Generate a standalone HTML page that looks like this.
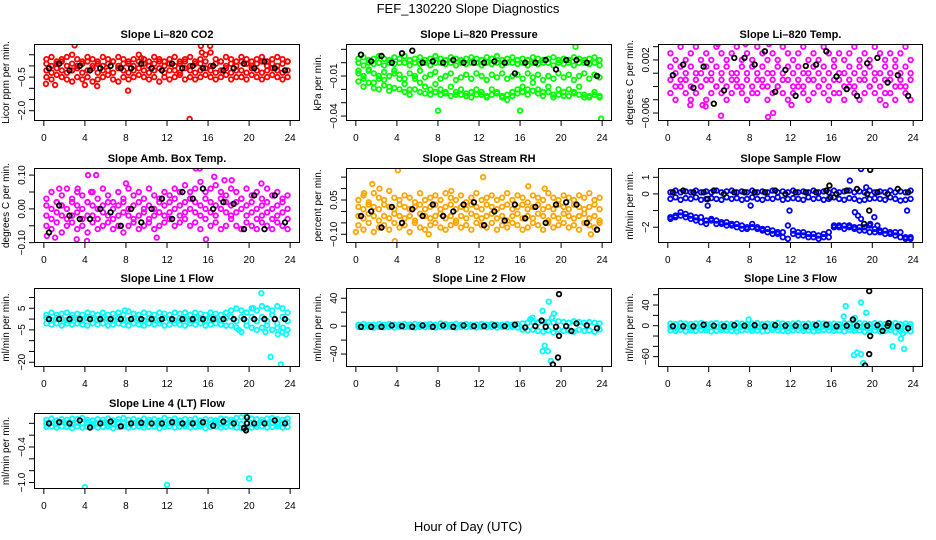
<!DOCTYPE html>
<html><head><meta charset="utf-8"><title>FEF_130220 Slope Diagnostics</title>
<style>
html,body{margin:0;padding:0;background:#fff;}
svg{display:block;font-family:"Liberation Sans",Arial,sans-serif;}
</style></head>
<body>
<svg id="chart" width="936" height="540" viewBox="0 0 936 540" xmlns="http://www.w3.org/2000/svg">
<rect width="936" height="540" fill="#fff"/>
<text x="468" y="13" text-anchor="middle" font-size="13">FEF_130220  Slope Diagnostics</text>
<text x="468" y="531" text-anchor="middle" font-size="13">Hour of Day (UTC)</text>
</svg>
<script>
const hrs48=[0.25,0.75,1.25,1.75,2.25,2.75,3.25,3.75,4.25,4.75,5.25,5.75,6.25,6.75,7.25,7.75,8.25,8.75,9.25,9.75,10.25,10.75,11.25,11.75,12.25,12.75,13.25,13.75,14.25,14.75,15.25,15.75,16.25,16.75,17.25,17.75,18.25,18.75,19.25,19.75,20.25,20.75,21.25,21.75,22.25,22.75,23.25,23.75];
const hrs24=[0.5,1.5,2.5,3.5,4.5,5.5,6.5,7.5,8.5,9.5,10.5,11.5,12.5,13.5,14.5,15.5,16.5,17.5,18.5,19.5,20.5,21.5,22.5,23.5];
const xTicks=[0,4,8,12,16,20,24];

// P1 CO2
const co2Hi=[0.3,0.4,0.2,0.3,0.4,0.5,0.3,0.2,0.4,0.3,0.2,0.4,0.3,0.2,0.4,0.3,0.2,0.3,0.5,0.3,0.2,0.4,0.3,0.2,0.3,0.4,0.2,0.3,0.4,0.2,0.3,0.5,0.6,0.3,0.2,0.4,0.3,0.2,0.4,0.3,0.2,0.3,0.4,0.2,0.3,0.4,0.3,0.2];
const co2MidA=[0.1,0.0,0.1,0.2,0.0,0.1,0.0,0.1,0.2,0.0,0.1,0.0,0.1,0.2,0.0,0.1,0.1,0.0,0.2,0.1,0.0,0.1,0.2,0.0,0.1,0.0,0.1,0.2,0.0,0.1,0.1,0.2,0.0,0.1,0.2,0.0,0.1,0.0,0.2,0.1,0.0,0.1,0.2,0.0,0.1,0.0,0.1,0.2];
const co2MidB=[-0.2,-0.3,-0.1,-0.2,-0.3,-0.2,-0.1,-0.3,-0.2,-0.1,-0.3,-0.2,-0.2,-0.3,-0.1,-0.2,-0.3,-0.2,-0.1,-0.2,-0.3,-0.2,-0.1,-0.3,-0.2,-0.2,-0.3,-0.1,-0.2,-0.3,-0.2,-0.1,-0.2,-0.3,-0.2,-0.1,-0.3,-0.2,-0.2,-0.3,-0.1,-0.2,-0.3,-0.2,-0.1,-0.2,-0.3,-0.2];
const co2Lo=[-0.5,-0.6,-0.4,-0.5,-0.6,-0.7,-0.5,-0.6,-0.5,-0.7,-0.6,-0.5,-0.4,-0.6,-0.7,-0.5,-0.6,-0.5,-0.4,-0.5,-0.6,-0.5,-0.7,-0.5,-0.6,-0.5,-0.4,-0.6,-0.5,-0.6,-0.5,-0.4,-0.5,-0.6,-0.5,-0.4,-0.6,-0.5,-0.5,-0.6,-0.4,-0.5,-0.6,-0.5,-0.4,-0.5,-0.6,-0.5];
const co2OutX=[0.2,1.1,3.0,4.0,5.2,8.2,9.5,14.2,15.3,15.4,16.2];
const co2OutY=[-0.8,-0.85,0.92,-0.85,-0.9,-1.1,0.35,-2.37,0.9,0.6,0.9];
const co2Blk=[-0.1,0.1,-0.2,0.0,-0.2,-0.1,0.0,-0.1,-0.1,0.1,-0.1,-0.2,0.1,-0.1,0.0,-0.1,0.0,-0.2,-0.1,0.1,-0.1,0.2,-0.1,-0.2];

// P2 Pressure
const prsHi=[0.003,0.004,0.002,0.003,0.005,0.003,0.002,0.004,0.003,0.005,0.002,0.003,0.004,0.002,0.003,0.005,0.003,0.002,0.004,0.003,0.002,0.003,0.004,0.003,0.002,0.004,0.003,0.005,0.002,0.003,0.004,0.002,0.003,0.002,0.004,0.003,0.002,0.003,0.004,0.002,0.003,0.002,0.004,0.003,0.002,0.003,0.004,0.002];
const prsMid=[0.0,-0.002,0.0,-0.001,0.0,-0.002,0.0,-0.001,0.0,0.0,-0.002,0.0,-0.001,0.0,-0.002,0.0,0.0,-0.001,0.0,-0.002,0.0,-0.001,0.0,0.0,-0.002,0.0,-0.001,0.0,-0.002,0.0,0.0,-0.001,0.0,-0.002,0.0,-0.001,0.0,0.0,-0.002,0.0,-0.001,0.0,-0.002,0.0,0.0,-0.001,0.0,-0.002];
const prsMidB=[-0.006,-0.01,-0.005,-0.008,-0.012,-0.007,-0.01,-0.006,-0.009,-0.012,-0.008,-0.01,-0.006,-0.011,-0.009,-0.007,-0.012,-0.01,-0.008,-0.013,-0.011,-0.009,-0.012,-0.008,-0.01,-0.013,-0.009,-0.011,-0.008,-0.012,-0.01,-0.009,-0.012,-0.008,-0.011,-0.009,-0.013,-0.01,-0.012,-0.008,-0.011,-0.009,-0.013,-0.01,-0.008,-0.012,-0.009,-0.011];
const prsLo=[-0.008,-0.012,-0.006,-0.015,-0.01,-0.013,-0.018,-0.008,-0.012,-0.016,-0.02,-0.012,-0.015,-0.018,-0.02,-0.016,-0.02,-0.022,-0.018,-0.024,-0.02,-0.025,-0.022,-0.02,-0.024,-0.026,-0.02,-0.022,-0.025,-0.028,-0.022,-0.02,-0.018,-0.02,-0.015,-0.02,-0.022,-0.018,-0.024,-0.02,-0.025,-0.02,-0.022,-0.018,-0.024,-0.026,-0.022,-0.025];
const prsLoB=[-0.014,-0.018,-0.015,-0.019,-0.02,-0.017,-0.021,-0.019,-0.02,-0.022,-0.024,-0.02,-0.022,-0.023,-0.024,-0.022,-0.024,-0.023,-0.025,-0.022,-0.024,-0.023,-0.026,-0.024,-0.022,-0.025,-0.024,-0.023,-0.026,-0.024,-0.025,-0.023,-0.022,-0.024,-0.021,-0.023,-0.025,-0.022,-0.026,-0.024,-0.022,-0.025,-0.023,-0.024,-0.026,-0.025,-0.024,-0.026];
const prsOutX=[8,16,21.4,23.9];
const prsOutY=[-0.036,-0.036,0.012,-0.042];
const prsBlk=[0.006,0.001,0.005,0.0,0.007,0.009,0.0,0.001,0.0,0.002,0.0,0.0,0.0,0.001,0.0,-0.008,0.0,0.0,0.002,-0.005,0.002,0.002,0.0,-0.01];

// P3 Li-820 Temp
const tmpHi=[0.003,0.002,0.004,0.002,0.003,0.004,0.002,0.003,0.002,0.004,0.003,0.002,0.003,0.004,0.002,0.003,0.002,0.004,0.003,0.002,0.003,0.002,0.004,0.003,0.002,0.003,0.004,0.002,0.003,0.002,0.004,0.003,0.002,0.003,0.002,0.003,0.004,0.002,0.003,0.002,0.004,0.003,0.002,0.003,0.002,0.003,0.004,0.002];
const tmpMid=[0.001,0.0,0.001,0.0,0.001,0.0,0.0,0.001,0.0,0.001,0.0,0.001,0.0,0.0,0.001,0.0,0.001,0.0,0.001,0.0,0.0,0.001,0.0,0.001,0.0,0.001,0.0,0.0,0.001,0.0,0.001,0.0,0.001,0.0,0.0,0.001,0.0,0.001,0.0,0.001,0.0,0.0,0.001,0.0,0.001,0.0,0.001,0.0];
const tmpMidB=[-0.001,-0.002,-0.001,-0.001,-0.002,-0.001,-0.002,-0.001,-0.001,-0.002,-0.001,-0.002,-0.001,-0.001,-0.002,-0.001,-0.002,-0.001,-0.001,-0.002,-0.001,-0.002,-0.001,-0.001,-0.002,-0.001,-0.002,-0.001,-0.001,-0.002,-0.001,-0.002,-0.001,-0.001,-0.002,-0.001,-0.002,-0.001,-0.001,-0.002,-0.001,-0.002,-0.001,-0.001,-0.002,-0.001,-0.002,-0.001];
const tmpLo=[-0.003,-0.004,-0.002,-0.003,-0.004,-0.003,-0.002,-0.004,-0.003,-0.002,-0.003,-0.004,-0.003,-0.002,-0.003,-0.004,-0.003,-0.003,-0.002,-0.004,-0.003,-0.002,-0.003,-0.004,-0.003,-0.002,-0.003,-0.004,-0.003,-0.002,-0.003,-0.004,-0.003,-0.003,-0.004,-0.002,-0.003,-0.004,-0.003,-0.002,-0.003,-0.004,-0.003,-0.003,-0.004,-0.002,-0.003,-0.004];
const tmpOutX=[5.2,9.8,10.3,3.4,3.7,2.2,21.3,12.1,4.9,7.6,9.9];
const tmpOutY=[-0.0064,-0.0066,-0.006,-0.0048,-0.005,-0.0048,-0.0048,-0.0048,0.0044,0.0044,0.0044];
const tmpBlk=[-0.0003,0.0013,-0.0022,0.001,-0.0046,-0.0026,0.0023,0.0023,0.0013,0.0033,-0.0028,0.0005,-0.0034,0.0011,0.0013,0.0033,-0.0005,-0.0024,-0.0034,0.0015,0.0023,-0.0014,-0.0003,-0.0034];

// P4 Amb Box Temp
const ambHi=[0.03,0.05,0.02,0.04,0.06,0.03,0.05,0.04,0.02,0.05,0.03,0.06,0.04,0.02,0.05,0.03,0.06,0.04,0.05,0.03,0.06,0.04,0.03,0.05,0.04,0.06,0.05,0.07,0.05,0.06,0.08,0.05,0.06,0.07,0.05,0.04,0.06,0.05,0.03,0.06,0.04,0.05,0.03,0.06,0.04,0.05,0.03,0.04];
const ambMid=[0.01,0.0,0.02,0.01,0.0,0.02,0.01,0.0,0.02,0.01,0.0,0.01,0.02,0.0,0.01,0.02,0.0,0.01,0.02,0.0,0.01,0.0,0.02,0.01,0.02,0.03,0.01,0.02,0.03,0.02,0.01,0.03,0.02,0.01,0.03,0.02,0.01,0.02,0.03,0.01,0.02,0.0,0.01,0.02,0.0,0.01,0.02,0.0];
const ambMidB=[-0.02,-0.03,-0.01,-0.02,-0.03,-0.02,-0.01,-0.03,-0.02,-0.02,-0.03,-0.01,-0.02,-0.03,-0.02,-0.01,-0.02,-0.03,-0.02,-0.01,-0.03,-0.02,-0.01,-0.02,-0.01,0.0,-0.02,-0.01,0.0,-0.01,-0.02,0.0,-0.01,-0.02,0.0,-0.01,-0.02,-0.01,0.0,-0.02,-0.01,-0.03,-0.02,-0.01,-0.03,-0.02,-0.01,-0.03];
const ambLo=[-0.05,-0.06,-0.04,-0.07,-0.05,-0.04,-0.06,-0.05,-0.07,-0.04,-0.06,-0.05,-0.04,-0.06,-0.05,-0.07,-0.05,-0.04,-0.06,-0.05,-0.04,-0.06,-0.05,-0.04,-0.03,-0.05,-0.04,-0.03,-0.05,-0.04,-0.06,-0.03,-0.05,-0.04,-0.06,-0.05,-0.03,-0.05,-0.06,-0.04,-0.05,-0.06,-0.04,-0.05,-0.06,-0.04,-0.05,-0.06];
const ambOutX=[0.3,1.1,3.2,4.2,4.3,5.1,14.8,15.2,15.8,16.6,11,1.5,3.3,8,4.6,17.6,18.3,21.2];
const ambOutY=[-0.08,-0.085,-0.09,-0.095,0.1,0.1,0.12,0.12,-0.09,0.095,-0.085,0.06,0.06,0.075,0.05,0.085,0.085,0.075];
const ambBlk=[-0.07,0.01,-0.02,-0.03,-0.03,0.0,-0.01,-0.05,0.0,-0.04,0.0,0.03,-0.03,0.05,0.03,0.06,0.0,0.02,0.015,-0.06,0.04,-0.06,0.04,-0.04];

// P5 Gas Stream RH
const rhHi=[0.05,0.07,0.04,0.08,0.06,0.05,0.09,0.06,0.05,0.07,0.06,0.04,0.08,0.05,0.06,0.07,0.05,0.08,0.06,0.05,0.07,0.04,0.06,0.08,0.05,0.06,0.07,0.05,0.06,0.08,0.05,0.07,0.06,0.04,0.07,0.06,0.05,0.08,0.06,0.05,0.07,0.06,0.05,0.07,0.06,0.08,0.05,0.06];
const rhMid=[0.02,0.01,0.03,0.02,0.01,0.03,0.02,0.01,0.03,0.02,0.01,0.02,0.03,0.01,0.02,0.03,0.01,0.02,0.03,0.01,0.02,0.01,0.03,0.02,0.01,0.03,0.02,0.01,0.02,0.03,0.01,0.02,0.03,0.01,0.02,0.03,0.01,0.02,0.01,0.03,0.02,0.01,0.03,0.02,0.01,0.02,0.03,0.01];
const rhMidB=[-0.02,-0.03,-0.01,-0.02,-0.04,-0.02,-0.03,-0.01,-0.02,-0.03,-0.02,-0.04,-0.01,-0.02,-0.03,-0.02,-0.01,-0.03,-0.02,-0.04,-0.02,-0.03,-0.01,-0.02,-0.03,-0.02,-0.01,-0.03,-0.02,-0.04,-0.02,-0.01,-0.03,-0.02,-0.03,-0.01,-0.02,-0.04,-0.02,-0.03,-0.01,-0.02,-0.03,-0.02,-0.01,-0.03,-0.02,-0.04];
const rhLo=[-0.06,-0.08,-0.05,-0.09,-0.07,-0.06,-0.08,-0.05,-0.07,-0.06,-0.09,-0.05,-0.07,-0.08,-0.06,-0.05,-0.07,-0.08,-0.06,-0.05,-0.07,-0.06,-0.08,-0.05,-0.06,-0.07,-0.05,-0.08,-0.06,-0.07,-0.05,-0.06,-0.08,-0.07,-0.05,-0.06,-0.08,-0.05,-0.07,-0.06,-0.05,-0.07,-0.06,-0.08,-0.05,-0.06,-0.07,-0.05];
const rhOutX=[0,1.6,3.8,4.1,12.4,22.9,16.8,18.4,9.3,0.8,2.3,7.1];
const rhOutY=[-0.09,0.12,-0.13,0.18,0.15,-0.10,0.11,0.1,0.09,0.08,0.1,-0.1];
const rhBlk=[-0.02,0.0,-0.07,0.02,-0.05,0.01,-0.02,0.03,-0.02,0.0,0.03,0.04,-0.06,0.0,-0.04,0.03,-0.03,0.02,-0.05,0.03,0.04,0.03,-0.05,-0.08];

// P6 Sample Flow
const sfHi=[0.1,0.2,0.1,0.15,0.1,0.2,0.1,0.15,0.1,0.2,0.1,0.15,0.2,0.1,0.15,0.1,0.2,0.1,0.15,0.1,0.2,0.1,0.15,0.1,0.2,0.1,0.15,0.1,0.2,0.1,0.15,0.1,0.2,0.1,0.15,0.2,0.1,0.15,0.1,0.2,0.1,0.15,0.1,0.2,0.1,0.15,0.1,0.2];
const sfMid=[-0.3,-0.2,-0.35,-0.25,-0.3,-0.2,-0.35,-0.3,-0.25,-0.3,-0.35,-0.2,-0.3,-0.25,-0.35,-0.3,-0.2,-0.3,-0.35,-0.25,-0.3,-0.2,-0.35,-0.3,-0.25,-0.3,-0.35,-0.2,-0.3,-0.25,-0.35,-0.3,-0.2,-0.3,-0.35,-0.25,-0.3,-0.4,-0.35,-0.3,-0.25,-0.3,-0.35,-0.2,-0.3,-0.4,-0.35,-0.3];
const sfLoA=[-1.4,-1.3,-1.1,-1.2,-1.3,-1.4,-1.4,-1.6,-1.5,-1.6,-1.7,-1.7,-1.8,-1.8,-1.9,-2.0,-1.8,-2.0,-2.1,-2.1,-2.2,-2.3,-2.3,-1.9,-2.2,-2.3,-2.3,-2.4,-2.4,-2.5,-2.4,-2.3,-1.9,-1.9,-1.9,-1.9,-2.0,-2.0,-2.0,-1.9,-2.1,-2.2,-2.2,-2.3,-2.3,-2.3,-2.6,-2.6];
const sfLoB=[-1.5,-1.4,-1.3,-1.4,-1.5,-1.6,-1.7,-1.8,-1.6,-1.8,-1.8,-1.9,-1.9,-2.0,-2.1,-2.1,-2.0,-2.1,-2.2,-2.3,-2.4,-2.4,-2.6,-2.7,-2.4,-2.5,-2.5,-2.6,-2.6,-2.7,-2.6,-2.6,-2.0,-2.0,-2.1,-2.0,-2.1,-2.2,-2.2,-2.3,-2.3,-2.3,-2.4,-2.4,-2.5,-2.6,-2.7,-2.7];
const sfOutX=[18.9,17.8,19.4,3.9,8.1,11.9,23.4,18.3,18.6,18.9,20.2,20.5,19.8];
const sfOutY=[1.5,0.8,0.4,-0.7,-0.7,-1.0,-1.0,-1.1,-1.3,-1.5,-1.4,-1.9,-1.8];
const sfBlk=[0.1,0.2,0.1,0.1,0.2,0.0,0.1,0.1,0.1,0.1,0.2,0.0,0.1,0.1,0.1,0.2,0.0,0.2,0.3,0.0,0.1,0.0,0.3,0.1];
const sfBlkOutX=[19.8,15.8,19.7,19.2,3.9,15.9];
const sfBlkOutY=[1.45,0.5,-1.0,-1.8,-0.3,-0.2];

// P7 Line 1 Flow
const l1Hi=[2,3,2,2.5,3,2,2.5,2,3,2.5,2,3,2,2.5,3,2,3.5,2.5,2,3,2.5,2,3,2.5,2,3,2.5,3,2,3,2.5,2,3,2.5,2,3,4,5,4,3,5,4,6,5,4,6,5,3];
const l1Mid=[0.5,-0.5,0.5,0,-0.5,0.5,0,-0.5,0.5,0,-0.5,0.5,0,-0.5,0.5,0,-0.5,0.5,0,-0.5,0.5,0,-0.5,0.5,0,-0.5,0.5,0,-0.5,0.5,0,-0.5,0.5,0,-0.5,0.5,1,-1,1,-1,1,-1,1,-1,2,-2,1,-1];
const l1Lo=[-2,-2.5,-2,-3,-2,-2.5,-2,-2.5,-3,-2,-2.5,-2,-3,-2.5,-2,-2.5,-3,-2,-2.5,-3,-2,-2.5,-2,-3,-2.5,-2,-2.5,-3,-2,-2.5,-2,-3,-2.5,-2,-2.5,-3,-3,-4,-6,-3,-4,-5,-4,-3,-5,-4,-6,-5];
const l1OutX=[21.2,22.1,23.1,22.8,23.6,21.6,23.3,19,7.9,20.4];
const l1OutY=[12,-17.5,-21,-7,-7,-6,-4,-5,4,5];
const l1Blk=[0,0,0,0,0,0,0,0,0,0,0,0,0,0,0,0,0,0,0,0,0,0,0,0];

// P8 Line 2 Flow
const l2Hi=[2,3,2,2,3,2,3,2,2,3,2,3,2,2,3,2,4,3,2,3,2,3,2,2,3,2,3,2,2,3,2,3,4,5,6,5,7,6,5,7,6,5,7,6,5,6,5,4];
const l2Lo=[-1,-1.5,-1,-2,-1,-1.5,-1,-2,-1,-1.5,-1,-2,-1,-1.5,-1,-2,-1,-1.5,-1,-2,-1,-1.5,-1,-2,-1,-1.5,-1,-2,-1,-1.5,-1,-2,-5,-6,-5,-7,-8,-6,-9,-5,-7,-6,-8,-5,-7,-6,-8,-5];
const l2OutX=[18.8,18.2,19.3,17.2,18.4,18.2,18.7,19.0,17.0,19.1];
const l2OutY=[35,22,18,12,-28,-36,-36,-50,10,12];
const l2Blk=[-1,-1,-1,1,0,-1,1,-1,1,-1,1,0,0,1,0,2,-2,0,-1,-1,0,4,1,-3];
const l2BlkOutX=[19.8,19.8,19.7,19.2,18.1,21.0];
const l2BlkOutY=[46,-14,-45,-55,8,-7];

// P9 Line 3 Flow
const l3Hi=[4,3,5,4,3,4,5,3,4,5,3,4,3,5,4,3,4,5,3,4,3,5,4,3,4,5,3,4,3,5,4,3,4,3,5,4,3,5,4,3,5,4,3,4,5,3,4,3];
const l3Mid=[-3,-4,-2,-3,-4,-3,-2,-4,-3,-2,-4,-3,-3,-4,-2,-3,-4,-3,-2,-3,-4,-3,-2,-4,-3,-2,-4,-3,-3,-4,-2,-3,-4,-3,-2,-3,-4,-3,-2,-4,-3,-2,-4,-3,-3,-4,-2,-3];
const l3Lo=[-9,-10,-8,-11,-9,-10,-8,-9,-11,-10,-8,-9,-10,-11,-9,-8,-10,-9,-11,-10,-8,-9,-10,-11,-9,-8,-10,-9,-11,-10,-8,-9,-10,-9,-11,-8,-10,-9,-12,-10,-9,-11,-10,-8,-12,-10,-9,-11];
const l3OutX=[17.4,18.9,19.4,17.2,18.3,18.2,18.5,18.9,19.1,22.0,23.1,22.8,23.0,7.9];
const l3OutY=[38,45,25,18,15,-57,-52,-55,-72,-40,-45,-25,-15,12];
const l3Blk=[-1,-1,-1,2,0,-1,1,0,1,-1,1,0,0,-1,1,2,-1,0,0,0,1,0,-1,-5];
const l3BlkOutX=[19.7,19.8,19.7,19.3,18.1,21.0,21.6];
const l3BlkOutY=[67,-20,-55,-77,12,-10,5];

// P10 Line 4 (LT) Flow
const l4Hi=[0.06,0.08,0.05,0.07,0.06,0.08,0.07,0.09,0.06,0.05,0.07,0.06,0.08,0.05,0.07,0.09,0.06,0.07,0.05,0.08,0.06,0.07,0.05,0.09,0.06,0.08,0.05,0.07,0.06,0.08,0.05,0.07,0.06,0.05,0.08,0.07,0.06,0.09,0.1,0.12,0.08,0.07,0.06,0.08,0.09,0.07,0.06,0.08];
const l4Mid=[0.0,0.01,-0.01,0.02,0.0,-0.01,0.01,0.0,0.02,-0.01,0.0,0.01,-0.01,0.0,0.02,0.0,-0.01,0.01,0.0,-0.01,0.02,0.0,0.01,-0.01,0.0,0.02,0.0,-0.01,0.01,0.0,-0.01,0.02,0.0,0.01,-0.01,0.0,0.02,0.0,-0.01,0.01,0.0,-0.01,0.02,0.0,0.01,-0.01,0.0,0.02];
const l4Lo=[-0.06,-0.05,-0.07,-0.05,-0.06,-0.08,-0.05,-0.07,-0.06,-0.05,-0.07,-0.06,-0.05,-0.08,-0.06,-0.05,-0.07,-0.06,-0.05,-0.07,-0.06,-0.05,-0.08,-0.06,-0.05,-0.07,-0.06,-0.05,-0.07,-0.06,-0.05,-0.08,-0.06,-0.05,-0.07,-0.06,-0.05,-0.07,-0.08,-0.1,-0.07,-0.06,-0.05,-0.07,-0.06,-0.05,-0.07,-0.06];
const l4OutX=[4.0,12.0,20.0];
const l4OutY=[-1.08,-1.04,-0.93];
const l4Blk=[0.0,0.02,0.0,0.05,-0.07,0.0,0.03,-0.05,0.0,0.01,0.0,0.0,0.02,0.0,0.0,0.02,-0.04,0.03,0.0,-0.08,0.0,0.0,0.05,0.0];
const l4BlkOutX=[19.8,19.8,19.7];
const l4BlkOutY=[0.1,0.0,-0.12];

const SVGNS='http://www.w3.org/2000/svg';
const svg=document.getElementById('chart');
function mk(tag,attrs,parent){const e=document.createElementNS(SVGNS,tag);for(const k in attrs)e.setAttribute(k,attrs[k]);(parent||svg).appendChild(e);return e;}

const cols=[{l:34,r:300},{l:346,r:612},{l:658,r:923}];
const rows=[{t:44,b:121},{t:168,b:243},{t:288,b:367},{t:413,b:489}];

const panels=[
 {name:'co2',title:'Slope Li\u2013820 CO2',yl:'Licor ppm per min.',c:0,r:0,ymin:-2.46,ymax:0.98,col:'#ff0000',
  ticks:[0.5,0,-0.5,-1,-1.5,-2],labels:['','','\u22120.5','','','\u22122.0'],series:[co2Lo,co2MidB,co2MidA,co2Hi],ox:co2OutX,oy:co2OutY,blk:co2Blk},
 {name:'pressure',title:'Slope Li\u2013820 Pressure',yl:'kPa per min.',c:1,r:0,ymin:-0.0437,ymax:0.014,col:'#00ff00',
  ticks:[0.01,0,-0.01,-0.02,-0.03,-0.04],labels:['','','\u22120.01','','','\u22120.04'],series:[prsLoB,prsLo,prsMidB,prsMid,prsHi],ox:prsOutX,oy:prsOutY,blk:prsBlk},
 {name:'licor-temp',title:'Slope Li\u2013820 Temp.',yl:'degrees C per min.',c:2,r:0,ymin:-0.0072,ymax:0.0044,col:'#ff00ff',
  ticks:[0.004,0.002,0,-0.002,-0.004,-0.006],labels:['','0.002','','','','\u22120.006'],series:[tmpLo,tmpMidB,tmpMid,tmpHi],ox:tmpOutX,oy:tmpOutY,blk:tmpBlk},
 {name:'amb-box-temp',title:'Slope Amb. Box Temp.',yl:'degrees C per min.',c:0,r:1,ymin:-0.101,ymax:0.121,col:'#ff00ff',
  ticks:[0.1,0.05,0,-0.05,-0.1],labels:['0.10','','0.00','','\u22120.10'],series:[ambLo,ambMidB,ambMid,ambHi],ox:ambOutX,oy:ambOutY,blk:ambBlk},
 {name:'gas-stream-rh',title:'Slope Gas Stream RH',yl:'percent per min.',c:1,r:1,ymin:-0.138,ymax:0.19,col:'#ffa500',
  ticks:[0.15,0.1,0.05,0,-0.05,-0.1],labels:['','','0.05','','','\u22120.10'],series:[rhLo,rhMidB,rhMid,rhHi],ox:rhOutX,oy:rhOutY,blk:rhBlk},
 {name:'sample-flow',title:'Slope Sample Flow',yl:'ml/min per min.',c:2,r:1,ymin:-2.95,ymax:1.56,col:'#0000ff',
  ticks:[1,0,-1,-2],labels:['1','0','','\u22122'],series:[sfLoB,sfLoA,sfMid,sfHi],ox:sfOutX,oy:sfOutY,blk:sfBlk,bx:sfBlkOutX,by:sfBlkOutY},
 {name:'line1-flow',title:'Slope Line 1 Flow',yl:'ml/min per min.',c:0,r:2,ymin:-22.2,ymax:14.4,col:'#00ffff',
  ticks:[10,5,0,-5,-10,-15,-20],labels:['','5','','\u22125','','','\u221220'],series:[l1Lo,l1Mid,l1Hi],ox:l1OutX,oy:l1OutY,blk:l1Blk},
 {name:'line2-flow',title:'Slope Line 2 Flow',yl:'ml/min per min.',c:1,r:2,ymin:-58.6,ymax:54.7,col:'#00ffff',
  ticks:[40,20,0,-20,-40],labels:['40','','0','','\u221240'],series:[l2Lo,l2Hi],ox:l2OutX,oy:l2OutY,blk:l2Blk,bx:l2BlkOutX,by:l2BlkOutY},
 {name:'line3-flow',title:'Slope Line 3 Flow',yl:'ml/min per min.',c:2,r:2,ymin:-80,ymax:73,col:'#00ffff',
  ticks:[60,40,20,0,-20,-40,-60],labels:['','40','','0','','','\u221260'],series:[l3Lo,l3Mid,l3Hi],ox:l3OutX,oy:l3OutY,blk:l3Blk,bx:l3BlkOutX,by:l3BlkOutY},
 {name:'line4-flow',title:'Slope Line 4 (LT) Flow',yl:'ml/min per min.',c:0,r:3,ymin:-1.11,ymax:0.175,col:'#00ffff',
  ticks:[0,-0.2,-0.4,-0.6,-0.8,-1.0],labels:['','','\u22120.4','','','\u22121.0'],series:[l4Lo,l4Mid,l4Hi],ox:l4OutX,oy:l4OutY,blk:l4Blk,bx:l4BlkOutX,by:l4BlkOutY}
];

function dot(g,x,y,color,name){
  const c=mk('circle',{cx:x.toFixed(1),cy:y.toFixed(1),r:2.3,fill:'none',stroke:color,'stroke-width':1.8},g);
  
  
}

panels.forEach(p=>{
  const L=cols[p.c].l,R=cols[p.c].r,T=rows[p.r].t,B=rows[p.r].b;
  const xs=h=>L+(h+0.96)/25.92*(R-L);
  const ys=v=>B-(v-p.ymin)/(p.ymax-p.ymin)*(B-T);
  const g=mk('g',{});
  
  
  const t=mk('text',{x:(L+R)/2,y:T-6,'text-anchor':'middle','font-size':11,'font-weight':'bold'},g);
  t.textContent=p.title;
  
  
  const yt=mk('text',{x:0,y:0,'text-anchor':'middle','font-size':10,transform:`translate(${L-25},${(T+B)/2}) rotate(-90)`},g);
  yt.textContent=p.yl;
  
  
  const cid='clip-'+p.name;
  const cp=mk('clipPath',{id:cid},g);
  mk('rect',{x:L,y:T,width:R-L,height:B-T},cp);
  const pts=mk('g',{'clip-path':`url(#${cid})`},g);
  
  
  p.series.forEach(s=>s.forEach((v,i)=>dot(pts,xs(hrs48[i]),ys(v),p.col,'data-point')));
  p.ox.forEach((h,i)=>dot(pts,xs(h),ys(p.oy[i]),p.col,'outlier-point'));
  p.blk.forEach((v,i)=>dot(pts,xs(hrs24[i]),ys(v),'#000','black-point'));
  if(p.bx) p.bx.forEach((h,i)=>dot(pts,xs(h),ys(p.by[i]),'#000','black-point'));
  const box=mk('rect',{x:L+0.5,y:T+0.5,width:R-L-1,height:B-T-1,fill:'none',stroke:'#000','stroke-width':1},g);
  
  
  xTicks.forEach(h=>{
    const x=xs(h);
    mk('line',{x1:x,x2:x,y1:B,y2:B+5,stroke:'#000'},g);
    const tl=mk('text',{x:x,y:B+20,'text-anchor':'middle','font-size':10},g);
    tl.textContent=String(h);
    
    
  });
  p.ticks.forEach((v,i)=>{
    const y=ys(v);
    mk('line',{x1:L-5,x2:L,y1:y,y2:y,stroke:'#000'},g);
    if(p.labels[i]){
      const tl=mk('text',{x:0,y:0,'text-anchor':'middle','font-size':10,transform:`translate(${L-9},${y}) rotate(-90)`},g);
      tl.textContent=p.labels[i];
      
      
    }
  });
});
</script>
</body></html>
